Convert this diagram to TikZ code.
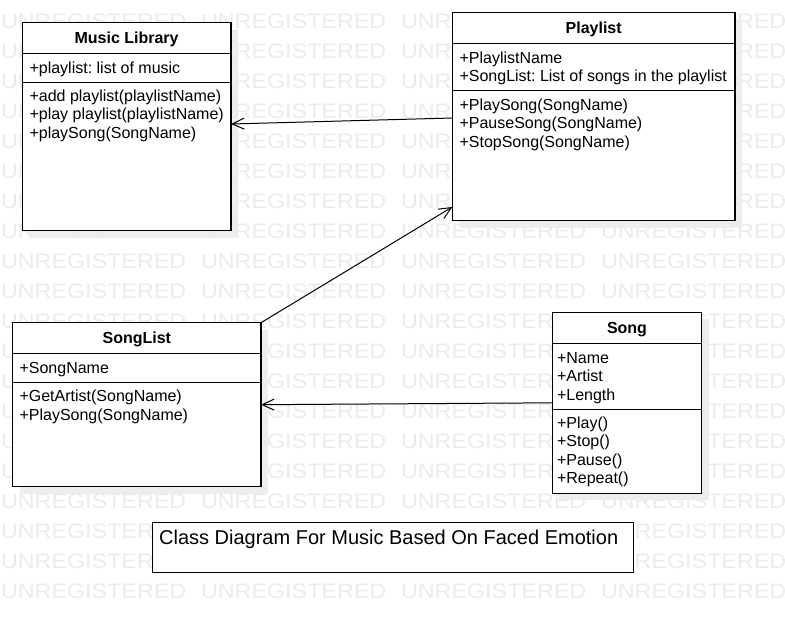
\documentclass[tikz,border=0pt]{standalone}
\usepackage{fontspec}
\setmainfont{Liberation Sans}
\usetikzlibrary{arrows.meta, shadows}
\frenchspacing

\begin{document}
\begin{tikzpicture}[x=1pt, y=-1pt, line width=1.1pt,
    font=\fontsize{16}{18.5}\selectfont,
    classbox/.style={draw=black, fill=white, inner sep=0pt, outer sep=0pt, anchor=north west,
      drop shadow={shadow xshift=7pt, shadow yshift=-7pt, fill=black!7, opacity=1}},
    classtitle/.style={font=\fontsize{16}{18.5}\selectfont\bfseries, anchor=base, inner sep=0pt},
    member/.style={anchor=base west, inner sep=0pt},
    watermark/.style={text=black!8, font=\fontsize{21}{21}\selectfont, anchor=base west, inner sep=0pt},
    assoc/.style={line width=1pt, -{Straight Barb[length=12pt, width=11pt, line width=1pt]}}]

    \useasboundingbox (0,0) rectangle (785,622);
    \def\lh{18.5}

    % watermark rows
    \foreach \r in {0,...,19} {
      \foreach \c in {0,...,3} {
        \node[watermark] (wm-\r-\c) at (0.5+200*\c, 28+30*\r) {\scalebox{1.11}[1]{UNREGISTERED}};
      }
    }

    % Music Library
    \node[classbox, minimum width=208.7pt, minimum height=208pt] (library) at (22.3,22.7) {};
    \draw (library.west |- 0,53.3) -- (library.east |- 0,53.3);
    \draw (library.west |- 0,82.3) -- (library.east |- 0,82.3);
    \node[classtitle] (library-title) at (126.6,43) {Music Library};
    \node[member] (library-a0) at (29,73) {+playlist: list of music};
    \foreach \t [count=\i from 0] in {{+add playlist(playlistName)}, {+play playlist(playlistName)}, {+playSong(SongName)}}
      \node[member] (library-m\i) at (29, 101+\lh*\i) {\t};

    % Playlist
    \node[classbox, minimum width=282.7pt, minimum height=208.4pt] (playlist) at (452.3,12.3) {};
    \draw (playlist.west |- 0,43.3) -- (playlist.east |- 0,43.3);
    \draw (playlist.west |- 0,90.7) -- (playlist.east |- 0,90.7);
    \node[classtitle] (playlist-title) at (593.7,33) {Playlist};
    \foreach \t [count=\i from 0] in {{+PlaylistName}, {+SongList: List of songs in the playlist}}
      \node[member] (playlist-a\i) at (459, 63+\lh*\i) {\t};
    \foreach \t [count=\i from 0] in {{+PlaySong(SongName)}, {+PauseSong(SongName)}, {+StopSong(SongName)}}
      \node[member] (playlist-m\i) at (459, 110+\lh*\i) {\t};

    % SongList
    \node[classbox, minimum width=248.3pt, minimum height=164pt] (songlist) at (12.7,322.7) {};
    \draw (songlist.west |- 0,353.3) -- (songlist.east |- 0,353.3);
    \draw (songlist.west |- 0,382.3) -- (songlist.east |- 0,382.3);
    \node[classtitle] (songlist-title) at (136.8,343) {SongList};
    \node[member] (songlist-a0) at (19,373) {+SongName};
    \foreach \t [count=\i from 0] in {{+GetArtist(SongName)}, {+PlaySong(SongName)}}
      \node[member] (songlist-m\i) at (19, 401.5+\lh*\i) {\t};

    % Song
    \node[classbox, minimum width=149.4pt, minimum height=181pt] (song) at (552.3,312.3) {};
    \draw (song.west |- 0,343.3) -- (song.east |- 0,343.3);
    \draw (song.west |- 0,409.3) -- (song.east |- 0,409.3);
    \node[classtitle] (song-title) at (627,333) {Song};
    \foreach \t [count=\i from 0] in {{+Name}, {+Artist}, {+Length}}
      \node[member] (song-a\i) at (556.5, 363+\lh*\i) {\t};
    \foreach \t [count=\i from 0] in {{+Play()}, {+Stop()}, {+Pause()}, {+Repeat()}}
      \node[member] (song-m\i) at (556.5, 428+\lh*\i) {\t};

    % associations
    \draw[assoc] ([yshift=-1.5pt]playlist.west) -- ([yshift=2.7pt]library.east);
    \draw[assoc] (songlist.north east) -- ([yshift=13.7pt]playlist.south west);
    \draw[assoc] (song.west) -- (songlist.east);

    % caption
    \node[draw=black, fill=white, inner sep=0pt, anchor=north west,
      minimum width=480.4pt, minimum height=50pt] (caption-box) at (152.3,522.3) {};
    \node[member, font=\fontsize{20}{24}\selectfont] (caption) at (158.6,544.3)
      {Class Diagram For Music Based On Faced Emotion};

\end{tikzpicture}
\end{document}
